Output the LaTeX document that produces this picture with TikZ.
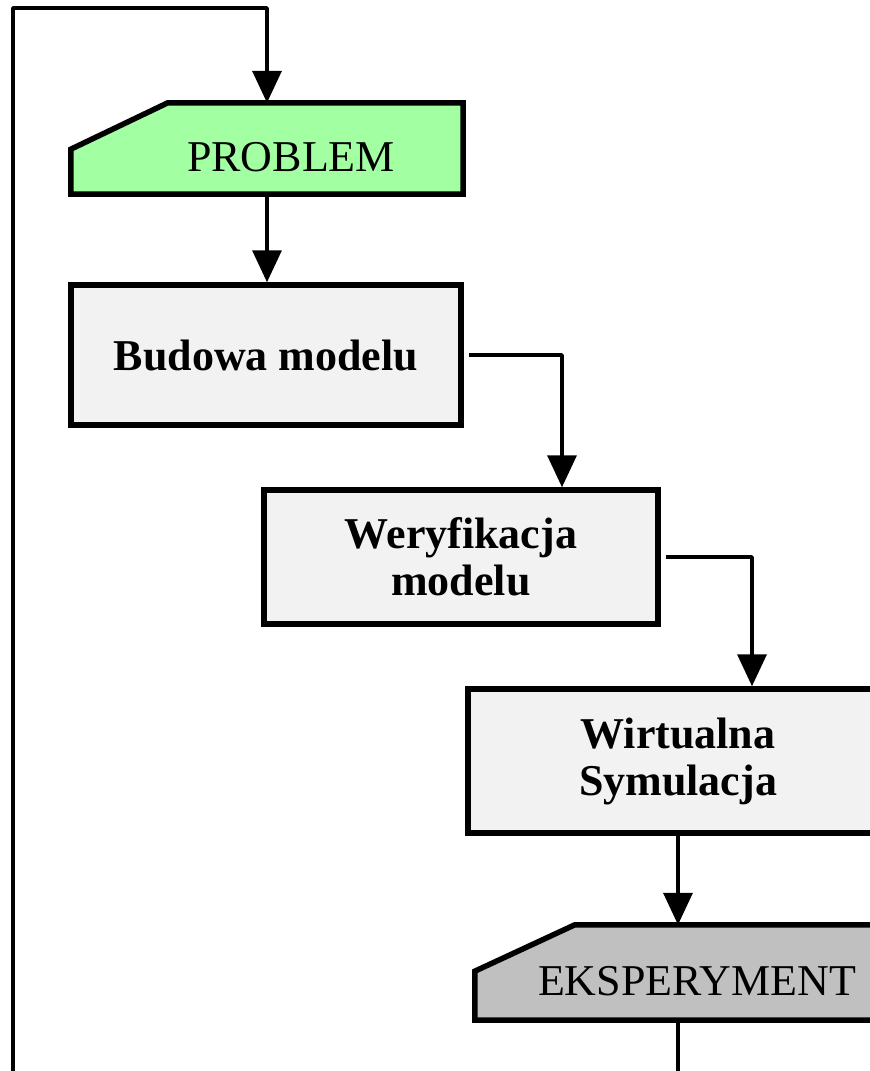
\documentclass[tikz,border=0pt]{standalone}
\usepackage{fontspec}
\setmainfont{Liberation Serif}
\usetikzlibrary{arrows.meta,positioning}
\definecolor{problemgreen}{HTML}{A2FFA2}
\definecolor{boxgray}{HTML}{F2F2F2}
\definecolor{experimentgray}{HTML}{C0C0C0}

\tikzset{
  stage/.style={draw, line width=5.5pt, fill=boxgray, align=center, inner sep=0pt,
    font=\bfseries\fontsize{44}{47}\selectfont},
  marker/.style={inner sep=0pt},
  card/.style={draw, line width=5.5pt, line join=miter},
  caption/.style={font=\fontsize{44}{47}\selectfont},
  flow/.style={line width=3.5pt, line join=round, -{Triangle[width=29pt,length=32pt]}},
  link/.style={line width=3.5pt},
}

\begin{document}
\begin{tikzpicture}[x=1pt,y=-1pt]

    \useasboundingbox (0,0) rectangle (870,1071);
    \clip (0,0) rectangle (870,1071);

    % PROBLEM
    \node[marker, minimum width=392pt, minimum height=91pt] (problem) at (267,148.5) {};
    \draw[card, fill=problemgreen] (problem.south west) -- ++(0,-45)
        -- ([xshift=97pt]problem.north west) -- (problem.north east)
        -- (problem.south east) -- cycle;
    \node[caption] (problemtext) at ([xshift=24pt,yshift=-9pt]problem.center) {PROBLEM};

    % etapy
    \node[stage, minimum width=390pt, minimum height=140pt] (budowa) at (266,355) {Budowa modelu};
    \node[stage, minimum width=394pt, minimum height=134pt] (weryfikacja) at (461,557) {Weryfikacja\\modelu};
    \node[stage, minimum width=420pt, minimum height=144pt] (wirtualna) at (678,761) {Wirtualna\\Symulacja};

    % EKSPERYMENT
    \node[marker, minimum width=406pt, minimum height=95pt] (eksperyment) at (678,972.5) {};
    \draw[card, fill=experimentgray] (eksperyment.south west) -- ++(0,-49)
        -- ([xshift=100pt]eksperyment.north west) -- (eksperyment.north east)
        -- (eksperyment.south east) -- cycle;
    \node[caption] (eksperymenttext) at ([xshift=19pt,yshift=-8.5pt]eksperyment.center) {EKSPERYMENT};

    % polaczenia
    \coordinate (topleft) at (13,8);
    \coordinate (bottomleft) at (13,1080);
    \coordinate (bottomright) at (678,1080);

    \draw[flow] (bottomleft) -- (topleft) -| (problem.north);
    \draw[flow] (problem.south) -- (problem.south |- budowa.north);
    \draw[flow] ([xshift=5pt]budowa.east) -| ([xshift=101pt]weryfikacja.north);
    \draw[flow] ([xshift=5pt]weryfikacja.east) -| ([xshift=74pt]wirtualna.north);
    \draw[flow] (wirtualna.south) -- (eksperyment.north);
    \draw[link] (eksperyment.south) -- (bottomright);

\end{tikzpicture}
\end{document}
